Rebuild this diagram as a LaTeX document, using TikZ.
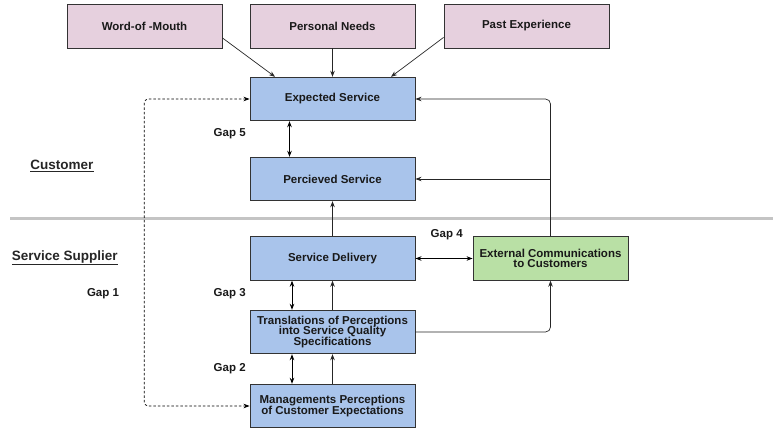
\documentclass[tikz,border=0pt]{standalone}
\usepackage{fontspec}
\setmainfont{Liberation Sans}
\usetikzlibrary{arrows.meta,calc}

\definecolor{pinkfill}{HTML}{E6D0DE}
\definecolor{bluefill}{HTML}{A9C4EB}
\definecolor{greenfill}{HTML}{B9E0A5}
\definecolor{edge}{HTML}{333333}
\definecolor{sepline}{HTML}{C4C4C4}

% close line spacing inside the boxes
\newcommand\tightlines{\lineskiplimit=-5pt\relax}

\tikzset{
  box/.style={draw=edge, line width=0.9pt, align=center, inner sep=2pt,
    font=\fontsize{11.5}{10.6}\selectfont\tightlines\bfseries, text=black!90},
  factor/.style={box, fill=pinkfill, minimum height=44pt},
  gapbox/.style={box, fill=bluefill, minimum width=165pt, minimum height=43.5pt},
  commbox/.style={box, fill=greenfill, minimum width=155pt, minimum height=43.5pt},
  arr/.style={draw=black!85, line width=0.7pt, -{Stealth[length=6pt,width=4.5pt]}},
  dbl/.style={draw=black, line width=0.9pt, {Stealth[length=6pt,width=4.5pt]}-{Stealth[length=6pt,width=4.5pt]}},
  dsh/.style={draw=black, line width=0.7pt, dash pattern=on 2.5pt off 2pt,
    {Stealth[length=6pt,width=4.5pt]}-{Stealth[length=6pt,width=4.5pt]}, rounded corners=4pt},
  gaplabel/.style={font=\fontsize{11.5}{12}\selectfont\bfseries, text=black!90, inner sep=0pt},
  sidelabel/.style={font=\fontsize{13.5}{14}\selectfont\bfseries, text=black!85, inner sep=0pt}
}

\begin{document}
\begin{tikzpicture}[x=1pt, y=-1pt]
  \useasboundingbox (0,0) rectangle (773,430);

  % divider between customer and supplier sides
  \draw[sepline, line width=3pt] (10,218.5) -- (773,218.5);

  % expectation factors
  \node[factor, minimum width=155pt] (wom) at (144.5,26) {Word-of -Mouth};
  \node[factor, minimum width=165pt] (pn)  at (332.5,26) {Personal Needs};
  \node[factor, minimum width=165pt] (pe)  at (526.5,26) {Past Experience};

  % customer side
  \node[gapbox] (exp) at (332.5,99)  {Expected Service};
  \node[gapbox] (per) at (332.5,179) {Percieved Service};

  % supplier side
  \node[gapbox] (sd) at (332.5,258.5) {Service Delivery};
  \node[gapbox] (tr) at (332.5,332)   {Translations of Perceptions\\into Service Quality\\Specifications};
  \node[gapbox] (mg) at (332.5,406)   {Managements Perceptions\\of Customer Expectations};
  \node[commbox] (ext) at (550.5,258.5) {External Communications\\to Customers};

  % side labels
  \node[sidelabel] (cust) at (62,166) {\underline{Customer}};
  \node[sidelabel] (supp) at (64.8,257.7) {\underline{Service Supplier}};

  % gap labels
  \node[gaplabel] (g5) at (229.7,133.3) {Gap 5};
  \node[gaplabel] (g1) at (103,293.3)   {Gap 1};
  \node[gaplabel] (g3) at (229.7,293.3) {Gap 3};
  \node[gaplabel] (g2) at (229.7,368.7) {Gap 2};
  \node[gaplabel] (g4) at (446.7,234.3) {Gap 4};

  % factors feeding expected service
  \draw[arr] ([yshift=10.5pt]wom.south east) -- ([xshift=-57.5pt]exp.north);
  \draw[arr] (pn.south) -- (exp.north);
  \draw[arr] ([yshift=11pt]pe.south west) -- ([xshift=58.5pt]exp.north);

  % external communications loop
  \draw[arr, rounded corners=5pt] (ext.north) |- (exp.east);
  \draw[arr] (ext.north |- per.east) -- (per.east);
  \draw[arr, rounded corners=5pt] (tr.east) -| (ext.south);

  % delivery chain
  \draw[arr] (sd.north) -- (per.south);
  \draw[arr] (tr.north) -- (sd.south);
  \draw[arr] (mg.north) -- (tr.south);

  % gaps
  \draw[dbl] ([xshift=-43pt]exp.south) -- ([xshift=-43pt]per.north);
  \draw[dbl] ([xshift=-40.5pt]sd.south) -- ([xshift=-40.5pt]tr.north);
  \draw[dbl] ([xshift=-40.5pt]tr.south) -- ([xshift=-40.5pt]mg.north);
  \draw[dbl, line width=0.7pt] (sd.east) -- (ext.west);
  \draw[dsh] (exp.west) -- ++(-105.3,0) |- (mg.west);
\end{tikzpicture}
\end{document}
